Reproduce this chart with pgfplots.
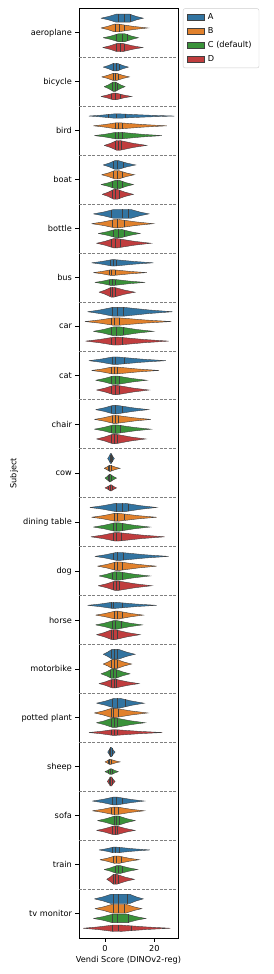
\documentclass[border=0pt]{standalone}
\usepackage{fontspec}
\setmainfont{DejaVu Sans}
\usepackage{pgfplots}
\pgfplotsset{compat=1.18}
\definecolor{hue0}{HTML}{3274A1}
\definecolor{hue1}{HTML}{E1812C}
\definecolor{hue2}{HTML}{3A923A}
\definecolor{hue3}{HTML}{C03D3E}
\definecolor{edgec}{HTML}{404040}
\def\kk{0.42}
\def\setshape#1/#2/#3/#4/#5\relax{\def\vL{#1}\def\vPa{#2}\def\vPb{#3}\def\vR{#4}\def\vh{#5}}
\def\setquart#1/#2/#3\relax{\def\vqa{#1}\def\vqb{#2}\def\vqc{#3}}
\newcommand\qline[1]{%
 \pgfmathsetmacro\tq{((#1)<\vPa) ? ((\vPa-(#1))/(\vPa-\vL)) : (((#1)>\vPb) ? (((#1)-\vPb)/(\vR-\vPb)) : 0)}%
 \pgfmathsetmacro\tq{min(\tq,1)}%
 \pgfmathsetmacro\wq{(\tq<0.5) ? (\vh*(1-2*(1-\kk)*\tq)) : (2*\kk*\vh*(1-\tq))}%
 \pgfmathsetmacro\qlo{\vy-\wq}\pgfmathsetmacro\qhi{\vy+\wq}%
 \addplot[draw=edgec, line width=0.35pt, forget plot] coordinates {(#1,\qlo) (#1,\qhi)};%
}
% \V{category}{hue}{L/P1/P2/R/halfheight}{q1/median/q3}
\newcommand\V[4]{%
 \pgfmathsetmacro\vy{#1+(#2-1.5)*0.2}%
 \setshape#3\relax
 \setquart#4\relax
 \pgfmathsetmacro\xa{(\vL+\vPa)/2}\pgfmathsetmacro\xb{(\vPb+\vR)/2}%
 \pgfmathsetmacro\ya{\vy-\kk*\vh}\pgfmathsetmacro\yb{\vy-\vh}%
 \pgfmathsetmacro\yc{\vy+\vh}\pgfmathsetmacro\yd{\vy+\kk*\vh}%
 \addplot[fill=hue#2, draw=edgec, line width=0.4pt, forget plot] coordinates {(\vL,\vy) (\xa,\ya) (\vPa,\yb) (\vPb,\yb) (\xb,\ya) (\vR,\vy) (\xb,\yd) (\vPb,\yc) (\vPa,\yc) (\xa,\yd) (\vL,\vy)};%
 \qline{\vqa}\qline{\vqb}\qline{\vqc}%
}
\begin{document}
\begin{tikzpicture}
\begin{axis}[
 scale only axis, width=99pt, height=930pt,
 xmin=-10.5, xmax=29.5, ymin=-0.5, ymax=18.5, y dir=reverse,
 xtick={0,20}, ytick={0,...,18},
 yticklabels={aeroplane,bicycle,bird,boat,bottle,bus,car,cat,chair,cow,dining table,dog,horse,motorbike,potted plant,sheep,sofa,train,tv monitor},
 tick align=outside, tick pos=left, major tick length=3.5pt,
 tick style={line width=0.8pt, black},
 axis line style={line width=0.8pt},
 /pgf/number format/assume math mode=true,
 tick label style={font=\fontsize{8.2}{9.8}\selectfont},
 label style={font=\fontsize{8.2}{9.8}\selectfont},
 xlabel={Vendi Score (DINOv2-reg)}, ylabel={Subject},
 xlabel style={yshift=2pt}, ylabel style={yshift=-7pt},
 extra y ticks={0.5,1.5,...,17.5}, extra y tick labels={},
 extra y tick style={grid=major, major tick length=0pt, major grid style={dash pattern=on 3pt off 1.5pt, gray, line width=0.7pt}},
 legend image code/.code={\draw[#1, sharp corners] (0pt,-3pt) rectangle (17pt,3pt);},
 legend style={at={(1.05,1)}, anchor=north west, draw=black!20, rounded corners=2pt,
   font=\fontsize{8.2}{9.8}\selectfont, row sep=2.4pt, inner xsep=4pt, inner ysep=3pt,
   nodes={inner xsep=3.5pt},
   cells={anchor=west}},
]
\addlegendimage{fill=hue0, draw=edgec, line width=0.4pt}\addlegendentry{A}
\addlegendimage{fill=hue1, draw=edgec, line width=0.4pt}\addlegendentry{B}
\addlegendimage{fill=hue2, draw=edgec, line width=0.4pt}\addlegendentry{C (default)}
\addlegendimage{fill=hue3, draw=edgec, line width=0.4pt}\addlegendentry{D}
% aeroplane
\V{0}{0}{-1.6/4.5/10/15.5/0.082}{5.4/7.8/10.1}
\V{0}{1}{-1.6/3.8/5.5/17.3/0.078}{4.3/5.8/7.7}
\V{0}{2}{-0.7/5.5/8/13.5/0.082}{4.7/6.8/8.8}
\V{0}{3}{-0.9/5/7/15.3/0.086}{4.7/6.1/7.8}
% bicycle
\V{1}{0}{-0.7/3.5/5/9.5/0.078}{3.4/4.5/5.8}
\V{1}{1}{-1.35/3.3/4.8/9.9/0.072}{3.4/4.3/5.4}
\V{1}{2}{-0.3/3.3/4.3/8.1/0.095}{3.1/4.1/5.1}
\V{1}{3}{-1.6/3.3/4.5/10.8/0.068}{2.7/4.3/6.1}
% bird
\V{2}{0}{-6.5/4/5.5/28.1/0.045}{1.5/4.5/8}
\V{2}{1}{-4.7/4.5/6/25/0.062}{4/5.4/7}
\V{2}{2}{-4.3/4.5/6.3/23/0.068}{4/5.4/6.8}
\V{2}{3}{-0.3/4.8/6/16.9/0.1}{4.3/5.4/6.5}
% boat
\V{3}{0}{-0.7/4/5.5/12.4/0.088}{3.4/5.1/7.4}
\V{3}{1}{-1.35/4/5.5/11.9/0.086}{3.4/4.9/6.8}
\V{3}{2}{-1.6/4.3/5.8/11.5/0.086}{3.1/5.1/6.8}
\V{3}{3}{-1.1/3.6/5/11.5/0.1}{3/4.3/5.7}
% bottle
\V{4}{0}{-4.7/3.5/10.5/17.8/0.09}{2.7/6.8/9.5}
\V{4}{1}{-5.4/4/5.5/19.6/0.086}{3/5.1/7.8}
\V{4}{2}{-2.7/4.5/6.5/14.2/0.086}{3.4/5.4/7.8}
\V{4}{3}{-3.4/3.5/5/18.6/0.095}{2.7/4.3/6.1}
% bus
\V{5}{0}{-5.4/2.8/4/19.6/0.065}{2/3.4/4.7}
\V{5}{1}{-4.7/2.3/3.6/16.9/0.057}{1.8/2.7/4.3}
\V{5}{2}{-4.1/2.3/3.6/16.2/0.062}{1.8/3/4.3}
\V{5}{3}{-2.4/2.5/3.7/12.2/0.1}{2/3/4.1}
% car
\V{6}{0}{-7/3/8/27.3/0.088}{3/5.1/7.4}
\V{6}{1}{-8.1/3.5/5.5/26.8/0.076}{2.7/3.8/5.7}
\V{6}{2}{-4.7/3.5/6/19.6/0.09}{2.7/4.7/7.4}
\V{6}{3}{-7.8/3.5/5.5/25.7/0.08}{2.7/4.3/6.8}
% cat
\V{7}{0}{-6.5/3.2/5/24.6/0.076}{3/4.1/7.8}
\V{7}{1}{-5.4/3/4.6/21.9/0.071}{2.7/3.8/5.1}
\V{7}{2}{-3.8/3.3/5/16.9/0.086}{2.7/4.1/5.7}
\V{7}{3}{-3.4/3.5/5/17.8/0.095}{2.7/4.3/5.7}
% chair
\V{8}{0}{-3.8/3.2/5/17.6/0.086}{2.4/4.1/6.8}
\V{8}{1}{-4.3/3.3/4.9/18.6/0.08}{3/4.1/5.4}
\V{8}{2}{-4.3/3.3/4.9/18.6/0.086}{2.4/4.1/6.1}
\V{8}{3}{-3.4/3/4.6/16.5/0.095}{2.4/3.8/5.1}
% cow
\V{9}{0}{1.1/2.2/2.6/3.8/0.1}{2/2.4/3}
\V{9}{1}{-0.3/1.8/2.2/6.1/0.062}{1.35/1.9/2.4}
\V{9}{2}{0/1.8/2.2/4.7/0.076}{1.35/1.9/2.4}
\V{9}{3}{0/2.2/2.6/4.7/0.062}{1.35/2.2/3}
% dining table
\V{10}{0}{-6.1/4.5/8/20.9/0.086}{4.7/6.8/9.2}
\V{10}{1}{-5.4/4/5.5/20.9/0.08}{3.8/5.1/7.8}
\V{10}{2}{-4.7/4/5.5/18.2/0.086}{3.4/4.7/6.8}
\V{10}{3}{-5.7/4/5.5/24.1/0.086}{3.4/4.7/6.5}
% dog
\V{11}{0}{-4.1/4.5/6.5/25.7/0.08}{3.4/5.1/7.4}
\V{11}{1}{-3/4.5/6/20.9/0.086}{3.8/5.1/6.8}
\V{11}{2}{-2.4/4/5.5/18.2/0.086}{3/4.7/6.8}
\V{11}{3}{-2.7/4/5.5/18.9/0.095}{3.4/4.7/5.7}
% horse
\V{12}{0}{-7/2.8/4.2/20.9/0.062}{2.4/3.4/6.8}
\V{12}{1}{-3.8/4/5.5/15.5/0.08}{3.8/5.1/7}
\V{12}{2}{-3.8/3.4/5/15.1/0.086}{3/4.1/6.5}
\V{12}{3}{-3.4/2.7/4.2/14.2/0.1}{2.4/3.4/5.1}
% motorbike
\V{13}{0}{-0.7/2.8/5.5/12.2/0.1}{2.4/3.8/5.1}
\V{13}{1}{-0.7/3/4.7/10.8/0.095}{2.4/3.8/5.1}
\V{13}{2}{-1.6/2.7/4.2/10.1/0.095}{2/3.4/4.7}
\V{13}{3}{-2.4/2.8/4.5/13.8/0.086}{2.4/3.8/4.7}
% potted plant
\V{14}{0}{-3.4/3.8/6/15.9/0.1}{3/5.1/8.1}
\V{14}{1}{-4.3/2.7/4.2/17.3/0.095}{2.4/3.4/5.4}
\V{14}{2}{-3.4/3/4.5/16.2/0.095}{2.4/3.8/5.1}
\V{14}{3}{-6.5/3/4.6/23.2/0.057}{2.7/3.8/5.1}
% sheep
\V{15}{0}{1.1/2.2/2.7/4.1/0.095}{1.8/2.3/2.8}
\V{15}{1}{0/1.8/2.3/6.1/0.052}{1.35/1.9/2.7}
\V{15}{2}{0/2.1/2.7/5.4/0.057}{1.35/2/3}
\V{15}{3}{0.95/2.1/2.7/4.1/0.092}{1.6/2.3/3}
% sofa
\V{16}{0}{-5.1/3.3/5/15.9/0.079}{3/4.7/6.8}
\V{16}{1}{-5.1/3.3/5/15.9/0.076}{2.4/3.8/5.4}
\V{16}{2}{-3/4/5.4/12.2/0.095}{3.8/4.7/5.7}
\V{16}{3}{-3.4/3.3/4.9/12.2/0.086}{3/4.1/5.1}
% train
\V{17}{0}{-2.4/3.4/4.8/18.2/0.057}{3/4.3/5.7}
\V{17}{1}{-2/4/5.5/13.8/0.076}{3.4/4.7/6.5}
\V{17}{2}{-0.3/4.7/6.2/13.2/0.08}{4.1/5.4/7}
\V{17}{3}{0.7/3.4/4.8/11.9/0.1}{3.4/4.3/5.4}
% tv monitor
\V{18}{0}{-4.3/2.5/10/15.5/0.095}{3.4/5.4/8.8}
\V{18}{1}{-4.1/3/8.5/14.9/0.09}{3.4/5.4/7.8}
\V{18}{2}{-4.7/3/9/16.5/0.086}{3/5.1/9.2}
\V{18}{3}{-8.8/3.5/6/26.4/0.066}{3/5.4/10.8}
\end{axis}
\pgfresetboundingbox
\path ([shift={(-79pt,-36pt)}]current axis.south west) rectangle ([shift={(96pt,8.4pt)}]current axis.north east);
\end{tikzpicture}
\end{document}
